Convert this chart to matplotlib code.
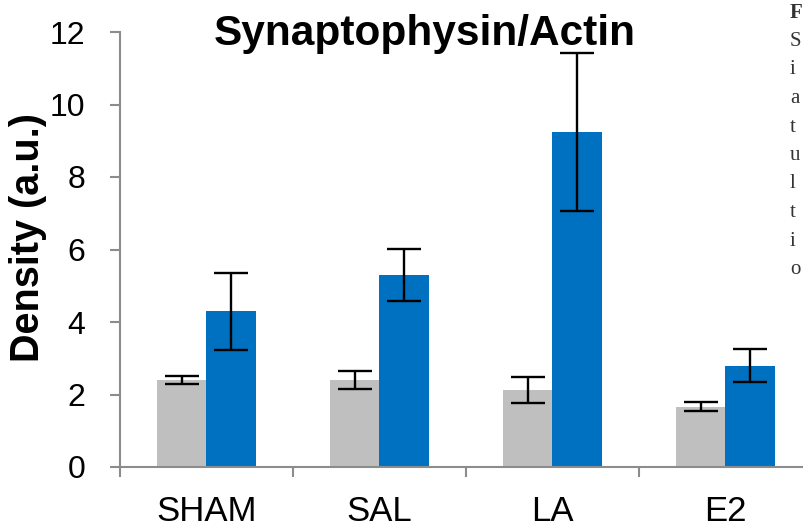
import numpy as np
import matplotlib.pyplot as plt

plt.rcParams['font.family'] = ['Liberation Sans', 'DejaVu Sans']

groups = ["SHAM", "SAL", "LA", "E2"]
gray_vals = [2.40, 2.40, 2.12, 1.66]
gray_err = [0.12, 0.26, 0.35, 0.12]
blue_vals = [4.30, 5.30, 9.25, 2.80]
blue_err = [1.06, 0.72, 2.18, 0.46]
yticks = [0, 2, 4, 6, 8, 10, 12]

# caption fragments cut off at the right edge of the page
caption_letters = ["F", "S", "i", "a", "t", "u", "l", "t", "i", "o"]

fig = plt.figure(figsize=(8.04, 5.27), dpi=100)
ax = fig.add_axes([120 / 804, 60 / 527, 692 / 804, 435 / 527])

x = np.arange(len(groups)) + 0.5
w = 0.286
err_kw = dict(ecolor="black", elinewidth=1.7, capsize=12, capthick=1.7)
ax.bar(x - w / 2, gray_vals, w, color="#BFBFBF", yerr=gray_err, error_kw=err_kw)
ax.bar(x + w / 2, blue_vals, w, color="#0070C0", yerr=blue_err, error_kw=err_kw)

ax.set_xlim(0, len(groups))
ax.set_ylim(0, 12)
ax.set_yticks(yticks)
ax.set_xticks(np.arange(len(groups) + 1))
ax.set_xticklabels([])
ax.set_xticks(x, minor=True)
ax.set_xticklabels(groups, minor=True, fontsize=25)
ax.tick_params(axis="x", which="minor", length=0, pad=20)
ax.tick_params(axis="x", which="major", length=7, width=1.5, color="#8C8C8C", direction="out")
ax.tick_params(axis="y", length=7, width=1.5, color="#8C8C8C", labelsize=23, pad=18)

for side in ["top", "right"]:
    ax.spines[side].set_visible(False)
for side in ["left", "bottom"]:
    ax.spines[side].set_color("#8C8C8C")
    ax.spines[side].set_linewidth(1.5)

fig.text(28 / 804, 1 - 238 / 527, "Density (a.u.)", fontsize=28.5, fontweight="bold",
         rotation=90, ha="center", va="center")
fig.text(425 / 804, 1 - 34 / 527, "Synaptophysin/Actin", fontsize=30.5,
         fontweight="bold", ha="center", va="center")

for i, ch in enumerate(caption_letters):
    fig.text(790 / 804, 1 - (13 + 28.5 * i) / 527, ch, fontsize=15,
             family="Liberation Serif", fontweight="bold" if i == 0 else "normal",
             color="#333333", ha="left", va="center")

fig.savefig("out.png", dpi=100)
